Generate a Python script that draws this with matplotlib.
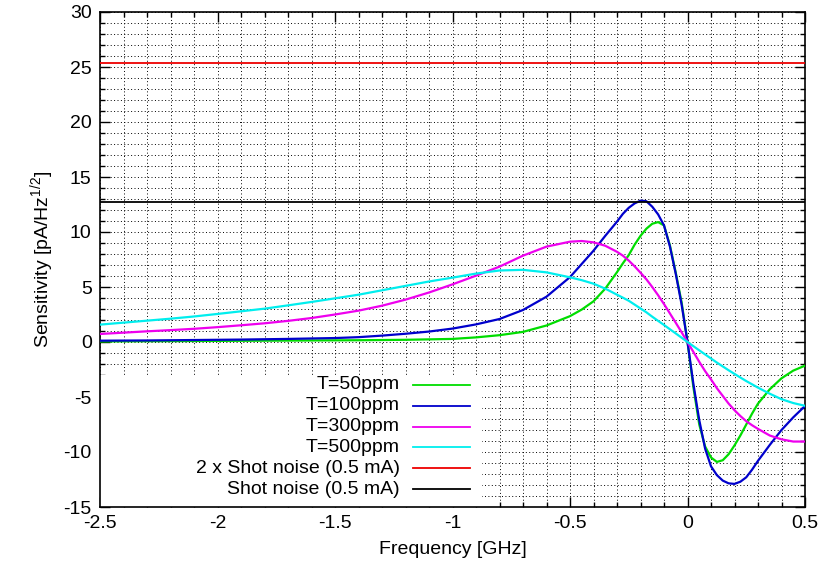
import matplotlib
matplotlib.use("Agg")
import matplotlib.pyplot as plt
from matplotlib.patches import Rectangle
from matplotlib.lines import Line2D
from matplotlib.ticker import MultipleLocator, FormatStrFormatter

plt.rcParams["font.family"] = ["Liberation Sans", "DejaVu Sans"]
plt.rcParams["mathtext.default"] = "regular"
plt.rcParams["axes.unicode_minus"] = False

FS = 14

# detuning grid [GHz], finer around the resonance
freq = [-2.5, -2.4, -2.3, -2.2, -2.1, -2.0, -1.9, -1.8, -1.7, -1.6,
        -1.5, -1.4, -1.3, -1.2, -1.1, -1.0, -0.9, -0.8, -0.7, -0.6,
        -0.5, -0.45, -0.4, -0.35, -0.3, -0.275, -0.25, -0.225, -0.2, -0.175,
        -0.15, -0.125, -0.1, -0.075, -0.05, -0.025, 0.0, 0.025, 0.05, 0.075,
        0.1, 0.125, 0.15, 0.175, 0.2, 0.225, 0.25, 0.275, 0.3, 0.35,
        0.4, 0.45, 0.5]

sens_50 = [0.05, 0.06, 0.07, 0.08, 0.09, 0.10, 0.11, 0.12, 0.13, 0.14,
           0.15, 0.16, 0.18, 0.20, 0.24, 0.28, 0.42, 0.62, 0.92, 1.5,
           2.35, 2.95, 3.7, 4.85, 6.35, 7.15, 7.9, 8.85, 9.65, 10.3,
           10.75, 10.9, 10.6, 8.8, 6.3, 3.6, 0.0, -4.1, -7.5, -9.5,
           -10.5, -10.9, -10.75, -10.2, -9.4, -8.5, -7.5, -6.5, -5.6, -4.3,
           -3.3, -2.6, -2.15]

sens_100 = [0.12, 0.13, 0.14, 0.16, 0.18, 0.20, 0.22, 0.25, 0.28, 0.32,
            0.36, 0.44, 0.58, 0.75, 0.95, 1.22, 1.6, 2.09, 2.91, 4.12,
            5.9, 7.1, 8.3, 9.65, 10.94, 11.65, 12.2, 12.6, 12.85, 12.8,
            12.3, 11.6, 10.6, 8.7, 6.2, 3.4, 0.0, -3.8, -7.1, -9.7,
            -11.3, -12.1, -12.6, -12.85, -12.9, -12.7, -12.3, -11.6, -10.8, -9.36,
            -8.0, -6.85, -5.82]

sens_300 = [0.73, 0.85, 0.97, 1.08, 1.2, 1.35, 1.52, 1.7, 1.92, 2.18,
            2.5, 2.85, 3.3, 3.85, 4.5, 5.24, 6.03, 6.85, 7.85, 8.67,
            9.12, 9.18, 9.06, 8.75, 8.2, 7.85, 7.4, 6.88, 6.3, 5.7,
            5.0, 4.25, 3.45, 2.6, 1.75, 0.88, 0.0, -0.9, -1.8, -2.65,
            -3.4, -4.2, -4.9, -5.6, -6.2, -6.73, -7.2, -7.57, -7.9, -8.5,
            -8.85, -9.05, -9.05]

sens_500 = [1.58, 1.76, 1.94, 2.12, 2.32, 2.55, 2.79, 3.03, 3.33, 3.64,
            3.97, 4.3, 4.7, 5.1, 5.5, 5.85, 6.22, 6.5, 6.56, 6.33,
            5.88, 5.62, 5.3, 4.85, 4.3, 4.03, 3.75, 3.4, 3.05, 2.7,
            2.3, 1.92, 1.55, 1.16, 0.78, 0.39, 0.0, -0.38, -0.76, -1.13,
            -1.5, -1.87, -2.22, -2.57, -2.9, -3.23, -3.55, -3.85, -4.15, -4.7,
            -5.2, -5.55, -5.8]

shot_noise = 12.7
labels = ["T=50ppm", "T=100ppm", "T=300ppm", "T=500ppm",
          "2 x Shot noise (0.5 mA)", "Shot noise (0.5 mA)"]
colors = ["#00dd00", "#0000cc", "#ee00ee", "#00eeee", "#ee0000", "#000000"]

fig = plt.figure(figsize=(8.24, 5.78), dpi=100)
ax = fig.add_axes([100 / 824, 1 - 507 / 578, 705 / 824, 495 / 578])

ax.set_xlim(-2.5, 0.5)
ax.set_ylim(-15, 30)
ax.xaxis.set_major_locator(MultipleLocator(0.5))
ax.xaxis.set_minor_locator(MultipleLocator(0.1))
ax.yaxis.set_major_locator(MultipleLocator(5))
ax.yaxis.set_minor_locator(MultipleLocator(1))
ax.xaxis.set_major_formatter(FormatStrFormatter("%g"))
ax.tick_params(which="both", direction="in", top=True, right=True,
               labelsize=FS, width=1)
ax.tick_params(which="major", length=7, pad=6)
ax.tick_params(which="minor", length=3.5)
ax.grid(which="both", color="black", linestyle=(0, (1, 2.5)), linewidth=0.7)
ax.set_axisbelow(True)
for s in ax.spines.values():
    s.set_linewidth(1.2)

curves = [sens_50, sens_100, sens_300, sens_500]
for vals, c in zip(curves, colors[:4]):
    ax.plot(freq, vals, color=c, lw=1.6, zorder=3)
ax.axhline(2 * shot_noise, color=colors[4], lw=1.3, zorder=3)
ax.axhline(shot_noise, color=colors[5], lw=1.3, zorder=3)

ax.set_xlabel("Frequency [GHz]", fontsize=FS, labelpad=6)
ax.set_ylabel("Sensitivity [pA/Hz$^{1/2}$]", fontsize=FS, labelpad=5)

# key box in the lower left corner, text right-aligned before the samples
ax.add_patch(Rectangle((0, 0), 0.542, 0.267, transform=ax.transAxes,
                       facecolor="white", edgecolor="none", zorder=2))
row_y = [0.2465, 0.2045, 0.162, 0.1205, 0.0785, 0.036]
for lab, c, y in zip(labels, colors, row_y):
    ax.text(0.4255, y, lab, transform=ax.transAxes, ha="right", va="center",
            fontsize=FS, zorder=4)
    ax.add_line(Line2D([0.4433, 0.5248], [y, y], transform=ax.transAxes,
                       color=c, lw=1.3, zorder=4))

fig.savefig("out.png", dpi=100)
